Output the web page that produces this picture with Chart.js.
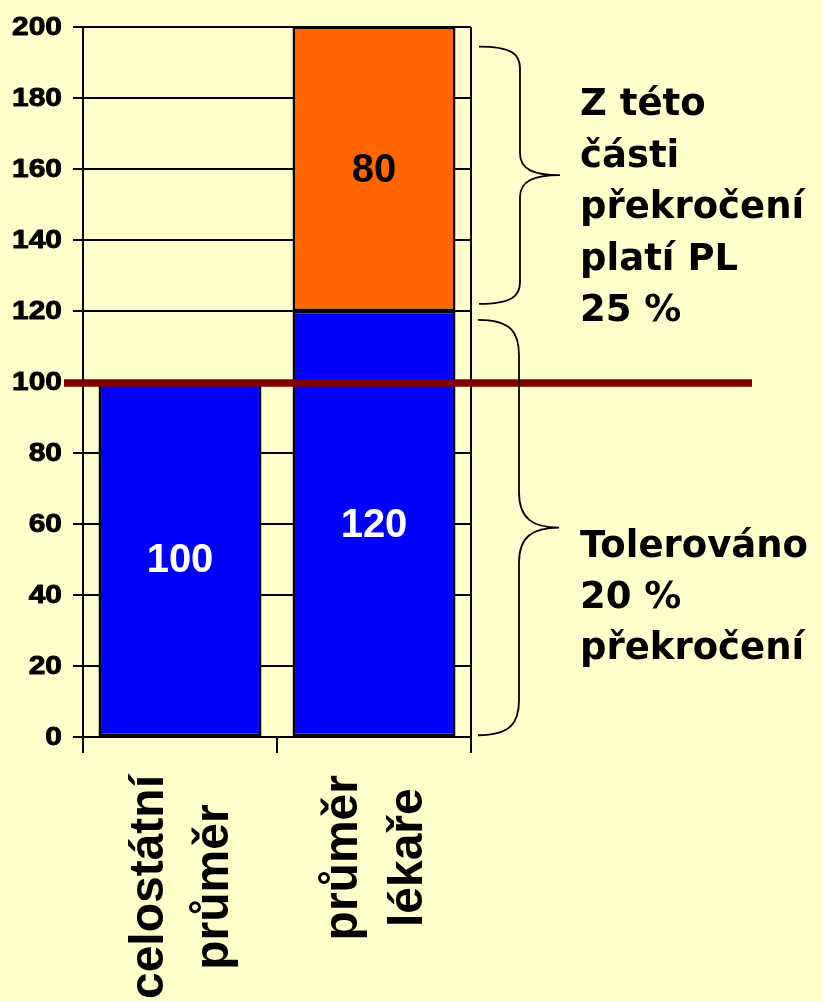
<!DOCTYPE html>
<html>
<head>
<meta charset="utf-8">
<script src="https://cdn.jsdelivr.net/npm/chart.js@4.4.1/dist/chart.umd.min.js"></script>
<style>
  html, body { margin: 0; padding: 0; background: #FFFFCC; overflow: hidden; }
  canvas { display: block; }
</style>
</head>
<body>
<canvas id="c" width="823" height="1001"></canvas>
<script>
// Categories (two-line labels) and stacked values
const categories = [['celostátní', 'průměr'], ['průměr', 'lékaře']];
const baseValues = [100, 120];     // blue part (tolerated)
const excessValues = [null, 80];   // orange part (excess)
const yTicks = [0, 20, 40, 60, 80, 100, 120, 140, 160, 180, 200];
const referenceLevel = 100;        // national average line

// Side notes with the value ranges their braces cover
const upperNote = ['Z této', 'části', 'překročení', 'platí PL', '25 %'];
const upperSpan = [122, 194.5];
const lowerNote = ['Tolerováno', '20 %', 'překročení'];
const lowerSpan = [0.5, 117.5];

const BG = '#FFFFCC';

function drawBrace(ctx, x0, yTop, yBot) {
  const h = yBot - yTop;
  const depth = 41, tipDepth = 81;
  const r = h * 0.085;
  const x1 = x0 + depth, x2 = x0 + tipDepth;
  const ym = (yTop + yBot) / 2;
  ctx.beginPath();
  ctx.moveTo(x0, yTop);
  ctx.bezierCurveTo(x0 + depth * 0.8, yTop, x1, yTop + r * 0.35, x1, yTop + r);
  ctx.lineTo(x1, ym - r);
  ctx.bezierCurveTo(x1, ym - r * 0.25, x1 + (tipDepth - depth) * 0.35, ym, x2, ym);
  ctx.bezierCurveTo(x1 + (tipDepth - depth) * 0.35, ym, x1, ym + r * 0.25, x1, ym + r);
  ctx.lineTo(x1, yBot - r);
  ctx.bezierCurveTo(x1, yBot - r * 0.35, x0 + depth * 0.8, yBot, x0, yBot);
  ctx.stroke();
}

const background = {
  id: 'background',
  beforeDraw(chart) {
    const ctx = chart.ctx;
    ctx.save();
    ctx.fillStyle = BG;
    ctx.fillRect(0, 0, chart.width, chart.height);
    ctx.restore();
  }
};

const overlay = {
  id: 'overlay',
  afterDatasetsDraw(chart) {
    const ctx = chart.ctx;
    const area = chart.chartArea;
    const y = chart.scales.y;

    // right frame line of the plot
    ctx.save();
    ctx.strokeStyle = '#000';
    ctx.lineWidth = 2;
    ctx.beginPath();
    ctx.moveTo(area.right, area.top);
    ctx.lineTo(area.right, area.bottom);
    ctx.stroke();

    // value labels in the middle of each bar segment
    ctx.font = 'bold 40px "Liberation Sans", Arial, sans-serif';
    ctx.textAlign = 'center';
    ctx.textBaseline = 'middle';
    chart.data.datasets.forEach((ds, di) => {
      const meta = chart.getDatasetMeta(di);
      meta.data.forEach((bar, i) => {
        const v = ds.data[i];
        if (v == null) return;
        ctx.fillStyle = ds.labelColor;
        ctx.fillText(String(v), bar.x, (bar.y + bar.base) / 2 + 2);
      });
    });

    // national average line
    const yRef = y.getPixelForValue(referenceLevel);
    ctx.strokeStyle = '#800000';
    ctx.lineWidth = 7.5;
    ctx.beginPath();
    ctx.moveTo(area.left - 19, yRef + 1);
    ctx.lineTo(area.right + 281, yRef + 1);
    ctx.stroke();
    ctx.restore();
  },
  afterDraw(chart) {
    const ctx = chart.ctx;
    const area = chart.chartArea;
    const x = chart.scales.x;
    const y = chart.scales.y;

    ctx.save();
    // y tick labels: wide, heavy bold digits
    ctx.fillStyle = '#000';
    ctx.strokeStyle = '#000';
    ctx.lineWidth = 0.9;
    ctx.lineJoin = 'round';
    ctx.font = 'bold 26px "Liberation Sans", Arial, sans-serif';
    ctx.textAlign = 'right';
    ctx.textBaseline = 'middle';
    yTicks.forEach(v => {
      ctx.save();
      ctx.translate(area.left - 21, y.getPixelForValue(v) + 1);
      ctx.scale(1.15, 1);
      ctx.fillText(String(v), 0, 0);
      ctx.strokeText(String(v), 0, 0);
      ctx.restore();
    });

    // braces
    ctx.lineWidth = 1.8;
    ctx.lineJoin = 'miter';
    drawBrace(ctx, area.right + 8, y.getPixelForValue(upperSpan[1]), y.getPixelForValue(upperSpan[0]));
    drawBrace(ctx, area.right + 7, y.getPixelForValue(lowerSpan[1]), y.getPixelForValue(lowerSpan[0]));

    // notes
    ctx.font = 'bold 37px "DejaVu Sans", Verdana, sans-serif';
    ctx.textAlign = 'left';
    ctx.textBaseline = 'alphabetic';
    const noteX = area.right + 109;
    upperNote.forEach((t, i) => ctx.fillText(t, noteX, area.top + 88 + i * 51.5));
    lowerNote.forEach((t, i) => ctx.fillText(t, noteX, area.top + 530 + i * 51));

    // rotated category labels
    ctx.font = 'bold 48px "Liberation Sans", Arial, sans-serif';
    ctx.textAlign = 'center';
    categories.forEach((lines, i) => {
      const cx = x.getPixelForValue(i);
      const maxW = Math.max(...lines.map(l => ctx.measureText(l).width));
      ctx.save();
      ctx.translate(cx, x.top + 38);
      ctx.rotate(-Math.PI / 2);
      lines.forEach((l, j) => {
        ctx.fillText(l, -maxW / 2, 15 + (j - (lines.length - 1) / 2) * 65);
      });
      ctx.restore();
    });
    ctx.restore();
  }
};

new Chart(document.getElementById('c'), {
  type: 'bar',
  data: {
    labels: categories,
    datasets: [
      {
        label: 'tolerováno',
        data: baseValues,
        backgroundColor: '#0000FF',
        borderColor: '#000',
        borderWidth: 2.5,
        borderSkipped: false,
        labelColor: '#FFFFFF'
      },
      {
        label: 'překročení',
        data: excessValues,
        backgroundColor: '#FF6600',
        borderColor: '#000',
        borderWidth: 2.5,
        borderSkipped: false,
        labelColor: '#000000'
      }
    ]
  },
  options: {
    responsive: false,
    devicePixelRatio: 1,
    animation: false,
    layout: { padding: { top: 27, right: 352, left: 0, bottom: 0 } },
    plugins: { legend: { display: false }, tooltip: { enabled: false } },
    datasets: { bar: { categoryPercentage: 1, barPercentage: 0.84 } },
    scales: {
      x: {
        stacked: true,
        afterFit(s) { s.height = 264; },
        ticks: { display: false },
        grid: { offset: true, drawOnChartArea: false, drawTicks: true, tickLength: 16, color: '#000', lineWidth: 2 },
        border: { display: true, color: '#000', width: 2 }
      },
      y: {
        stacked: true,
        min: 0,
        max: 200,
        afterFit(s) { s.width = 83; },
        afterBuildTicks(s) { s.ticks = yTicks.map(v => ({ value: v })); },
        ticks: { display: false },
        grid: { color: '#000', lineWidth: 2, tickLength: 10 },
        border: { display: true, color: '#000', width: 2 }
      }
    }
  },
  plugins: [background, overlay]
});
</script>
</body>
</html>
